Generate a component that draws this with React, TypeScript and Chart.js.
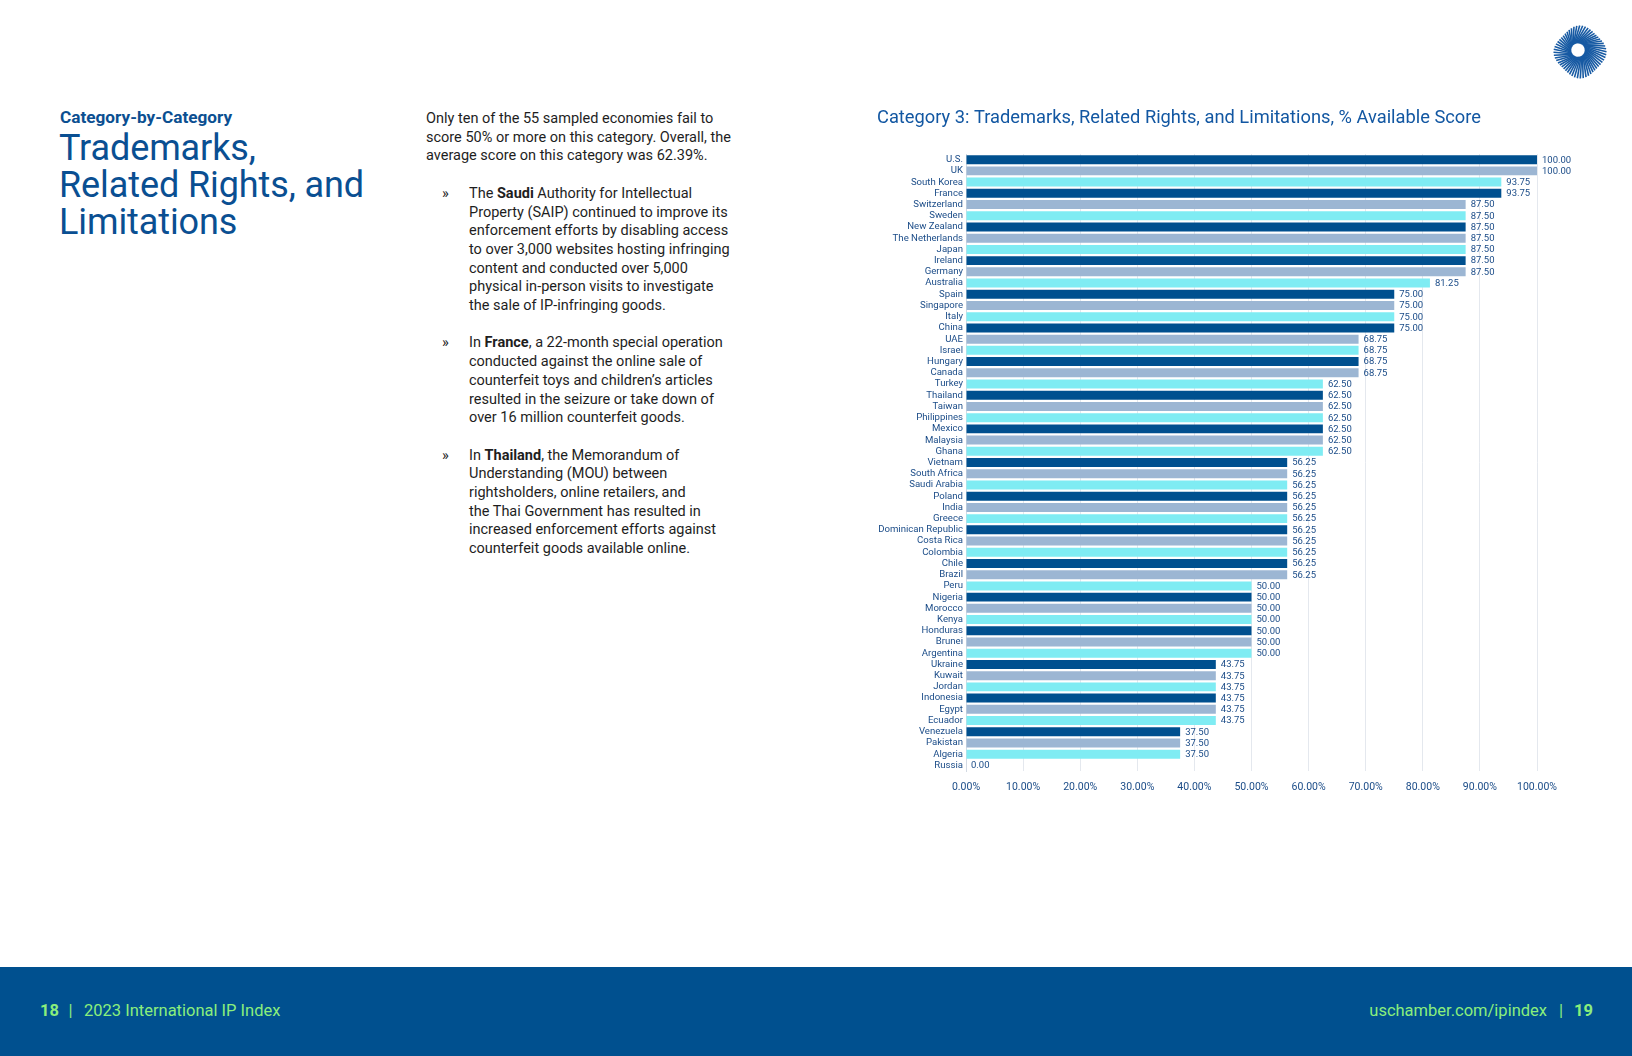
import React, { useEffect, useRef } from 'react';
import { Chart, registerables } from 'chart.js';

Chart.register(...registerables);

const chartTitle = 'Category 3: Trademarks, Related Rights, and Limitations, % Available Score';

const countries = [
  'U.S.', 'UK', 'South Korea', 'France', 'Switzerland', 'Sweden', 'New Zealand', 'The Netherlands',
  'Japan', 'Ireland', 'Germany', 'Australia', 'Spain', 'Singapore', 'Italy', 'China', 'UAE', 'Israel',
  'Hungary', 'Canada', 'Turkey', 'Thailand', 'Taiwan', 'Philippines', 'Mexico', 'Malaysia', 'Ghana',
  'Vietnam', 'South Africa', 'Saudi Arabia', 'Poland', 'India', 'Greece', 'Dominican Republic',
  'Costa Rica', 'Colombia', 'Chile', 'Brazil', 'Peru', 'Nigeria', 'Morocco', 'Kenya', 'Honduras',
  'Brunei', 'Argentina', 'Ukraine', 'Kuwait', 'Jordan', 'Indonesia', 'Egypt', 'Ecuador', 'Venezuela',
  'Pakistan', 'Algeria', 'Russia',
];

const scores = [
  100, 100, 93.75, 93.75, 87.5, 87.5, 87.5, 87.5,
  87.5, 87.5, 87.5, 81.25, 75, 75, 75, 75, 68.75, 68.75,
  68.75, 68.75, 62.5, 62.5, 62.5, 62.5, 62.5, 62.5, 62.5,
  56.25, 56.25, 56.25, 56.25, 56.25, 56.25, 56.25,
  56.25, 56.25, 56.25, 56.25, 50, 50, 50, 50, 50,
  50, 50, 43.75, 43.75, 43.75, 43.75, 43.75, 43.75, 37.5,
  37.5, 37.5, 0,
];

const tickLabels = ['0.00%', '10.00%', '20.00%', '30.00%', '40.00%', '50.00%', '60.00%', '70.00%', '80.00%', '90.00%', '100.00%'];

const barPalette = ['#00508F', '#9CB6D3', '#7FECF3'];

const labelColor = '#1b4c88';

const valueLabels = {
  id: 'valueLabels',
  afterDatasetsDraw(chart: any) {
    const ctx = chart.ctx;
    const meta = chart.getDatasetMeta(0);
    const data = chart.data.datasets[0].data as number[];
    ctx.save();
    ctx.font = '9.5px Roboto';
    ctx.fillStyle = labelColor;
    ctx.textBaseline = 'middle';
    ctx.textAlign = 'left';
    meta.data.forEach((bar: any, i: number) => {
      ctx.fillText(data[i].toFixed(2), bar.x + 5, bar.y + 0.5);
    });
    ctx.restore();
  },
};

function BarChart() {
  const ref = useRef<HTMLCanvasElement | null>(null);
  useEffect(() => {
    if (!ref.current) return;
    Chart.defaults.font.family = 'Roboto';
    const chart = new Chart(ref.current, {
      type: 'bar',
      data: {
        labels: countries,
        datasets: [
          {
            data: scores,
            backgroundColor: countries.map((_, i) => barPalette[i % 3]),
            borderWidth: 0,
            categoryPercentage: 1,
            barPercentage: 0.8,
          },
        ],
      },
      options: {
        indexAxis: 'y',
        animation: false,
        responsive: false,
        maintainAspectRatio: false,
        layout: { padding: { left: 17, right: 73, top: 0, bottom: 0 } },
        plugins: {
          legend: { display: false },
          tooltip: { enabled: false },
          title: {
            display: true,
            text: chartTitle,
            align: 'start',
            color: '#1257a2',
            font: { family: 'Roboto', size: 18.3, weight: 'normal' },
            padding: { top: 7, bottom: 25.1 },
          },
        },
        scales: {
          x: {
            min: 0,
            max: 100,
            ticks: {
              stepSize: 10,
              autoSkip: false,
              maxRotation: 0,
              color: labelColor,
              font: { size: 10.5 },
              padding: 10,
              callback: (_v: any, i: number) => tickLabels[i],
            },
            grid: { color: '#e4e8ee', drawTicks: false },
            border: { display: false },
            afterFit: (s: any) => {
              s.height = 30;
            },
          },
          y: {
            ticks: {
              autoSkip: false,
              color: labelColor,
              font: { size: 9.6 },
              padding: 3,
            },
            grid: { display: false, drawTicks: false },
            border: { display: true, color: '#d3dae3' },
            afterFit: (s: any) => {
              s.width = 89;
            },
          },
        },
      },
      plugins: [valueLabels],
    });
    return () => chart.destroy();
  }, []);
  return (
    <canvas
      ref={ref}
      width={750}
      height={701}
      style={{ position: 'absolute', left: 860, top: 100, width: 750, height: 701 }}
    />
  );
}

function Logo() {
  const lines = [];
  const n = 56;
  for (let i = 0; i < n; i++) {
    const a = (i / n) * Math.PI * 2;
    const b = a + 0.55;
    const rOuter = 25 * (1 + 0.06 * Math.cos(4 * b));
    const x1 = 1580 - 2 + Math.cos(a) * 7;
    const y1 = 52 - 2 + Math.sin(a) * 7;
    const x2 = 1580 + Math.cos(b) * rOuter;
    const y2 = 52 + Math.sin(b) * rOuter;
    lines.push(<line key={i} x1={x1} y1={y1} x2={x2} y2={y2} stroke="#175aa3" strokeWidth={1.6} />);
  }
  return (
    <svg width={1632} height={110} style={{ position: 'absolute', left: 0, top: 0 }}>
      {lines}
    </svg>
  );
}

const bodyFont = 'Roboto, "Noto Sans", sans-serif';

function Line({ children }: { children: React.ReactNode }) {
  return <div style={{ whiteSpace: 'nowrap' }}>{children}</div>;
}

function Bullet({ lines, top }: { lines: React.ReactNode[]; top: number }) {
  return (
    <div style={{ position: 'absolute', left: 442, top, width: 300 }}>
      <div style={{ position: 'absolute', left: 0, top: 0 }}>»</div>
      <div style={{ position: 'absolute', left: 27, top: 0 }}>
        {lines.map((l, i) => (
          <Line key={i}>{l}</Line>
        ))}
      </div>
    </div>
  );
}

export default function App() {
  useEffect(() => {
    document.body.style.margin = '0';
  }, []);
  const lh = 18.7;
  const paraTop = 110;
  return (
    <div
      style={{
        position: 'absolute',
        left: 0,
        top: 0,
        width: 1632,
        height: 1056,
        overflow: 'hidden',
        background: '#ffffff',
        fontFamily: bodyFont,
      }}
    >
      <Logo />
      <div
        style={{
          position: 'absolute',
          left: 60,
          top: 107.2,
          fontSize: 17.2,
          lineHeight: '20px',
          fontWeight: 700,
          color: '#0b4f91',
          whiteSpace: 'nowrap',
        }}
      >
        Category-by-Category
      </div>
      <div
        style={{
          position: 'absolute',
          left: 59,
          top: 129.8,
          fontSize: 36,
          lineHeight: '37.2px',
          color: '#0a4f92',
          letterSpacing: -0.1,
          whiteSpace: 'nowrap',
        }}
      >
        <div>Trademarks,</div>
        <div>Related Rights, and</div>
        <div>Limitations</div>
      </div>

      <div style={{ position: 'absolute', left: 0, top: 0, fontSize: 14.5, lineHeight: `${lh}px`, color: '#1e1e1e' }}>
        <div style={{ position: 'absolute', left: 426, top: paraTop }}>
          <Line>Only ten of the 55 sampled economies fail to</Line>
          <Line>score 50% or more on this category. Overall, the</Line>
          <Line>average score on this category was 62.39%.</Line>
        </div>
        <Bullet
          top={paraTop + lh * 4}
          lines={[
            <>The <b>Saudi</b> Authority for Intellectual</>,
            'Property (SAIP) continued to improve its',
            'enforcement efforts by disabling access',
            'to over 3,000 websites hosting infringing',
            'content and conducted over 5,000',
            'physical in-person visits to investigate',
            'the sale of IP-infringing goods.',
          ]}
        />
        <Bullet
          top={paraTop + lh * 12}
          lines={[
            <>In <b>France</b>, a 22-month special operation</>,
            'conducted against the online sale of',
            'counterfeit toys and children\u2019s articles',
            'resulted in the seizure or take down of',
            'over 16 million counterfeit goods.',
          ]}
        />
        <Bullet
          top={paraTop + lh * 18}
          lines={[
            <>In <b>Thailand</b>, the Memorandum of</>,
            'Understanding (MOU) between',
            'rightsholders, online retailers, and',
            'the Thai Government has resulted in',
            'increased enforcement efforts against',
            'counterfeit goods available online.',
          ]}
        />
      </div>

      <BarChart />

      <div style={{ position: 'absolute', left: 0, top: 967, width: 1632, height: 89, background: '#00508F' }} />
      <div style={{ position: 'absolute', left: 0, top: 1001.3, width: 1632, fontSize: 16.5, lineHeight: '20px', color: '#8aee7c' }}>
        <span style={{ position: 'absolute', left: 40, fontWeight: 700 }}>18</span>
        <span style={{ position: 'absolute', left: 68.5 }}>|</span>
        <span style={{ position: 'absolute', left: 84, whiteSpace: 'nowrap' }}>2023 International IP Index</span>
        <span style={{ position: 'absolute', right: 1632 - 1547, whiteSpace: 'nowrap' }}>uschamber.com/ipindex</span>
        <span style={{ position: 'absolute', left: 1559 }}>|</span>
        <span style={{ position: 'absolute', left: 1574, fontWeight: 700 }}>19</span>
      </div>
    </div>
  );
}
